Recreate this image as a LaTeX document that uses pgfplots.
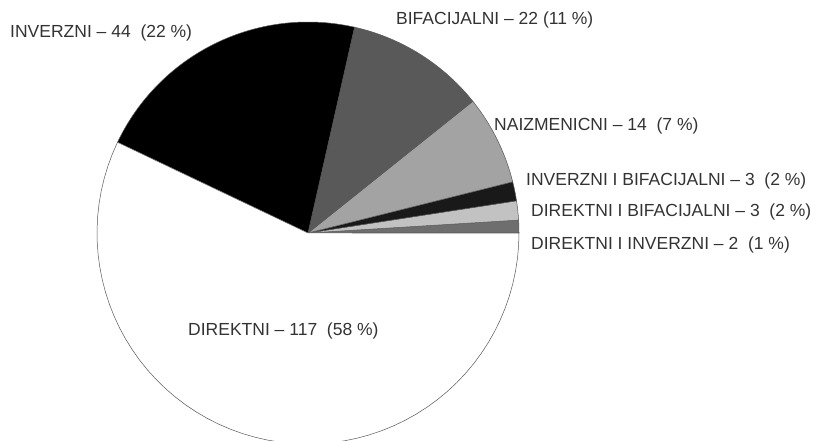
\documentclass[border=0pt]{standalone}
\usepackage{pgfplots}
\pgfplotsset{compat=1.18}
\usepackage{fontspec}
\setmainfont{Liberation Sans}
\definecolor{cDI}{gray}{0.43}
\definecolor{cDB}{gray}{0.76}
\definecolor{cIB}{gray}{0.10}
\definecolor{cNA}{gray}{0.64}
\definecolor{cBI}{gray}{0.35}
\definecolor{cIN}{gray}{0.0}
\definecolor{cDIR}{gray}{1.0}
% values (counter-clockwise from east)
\def\total{205}
\newcommand{\slice}[3]{% start value, end value, colour
  \pgfmathsetmacro\angA{#1/\total*360}%
  \pgfmathsetmacro\angB{#2/\total*360}%
  \edef\tmp{\noexpand\addplot[fill=#3, draw=black!65, line width=0.5pt, domain=\angA:\angB, samples=60, variable=\noexpand\t]
    ({308+211*cos(\noexpand\t)},{208+211*sin(\noexpand\t)}) -- (axis cs:308,208) -- cycle;}%
  \tmp
}
\begin{document}
\begin{tikzpicture}
\begin{axis}[
  x=1pt, y=1pt, xmin=0, xmax=818, ymin=0, ymax=441,
  scale only axis, hide axis, clip=true,
  trig format plots=deg,
]
\slice{0}{2}{cDI}
\slice{2}{5}{cDB}
\slice{5}{8}{cIB}
\slice{8}{22}{cNA}
\slice{22}{44}{cBI}
\slice{44}{88}{cIN}
\slice{88}{205}{cDIR}
\begin{scope}[every node/.style={anchor=west, inner sep=0pt, font=\fontsize{17.5}{20}\selectfont, text=black!80}]
\node at (axis cs:10,408) {INVERZNI -- 44\ \ (22 \%)};
\node at (axis cs:396,421) {BIFACIJALNI -- 22 (11 \%)};
\node at (axis cs:494,315) {NAIZMENICNI -- 14\ \ (7 \%)};
\node at (axis cs:526,260) {INVERZNI I BIFACIJALNI -- 3\ \ (2 \%)};
\node at (axis cs:531,229) {DIREKTNI I BIFACIJALNI -- 3\ \ (2 \%)};
\node at (axis cs:531,196) {DIREKTNI I INVERZNI -- 2\ \ (1 \%)};
\node at (axis cs:188,110) {DIREKTNI -- 117\ \ (58 \%)};
\end{scope}
\end{axis}
\pgfresetboundingbox
\path (current axis.south west) rectangle (current axis.north east);
\end{tikzpicture}
\end{document}
